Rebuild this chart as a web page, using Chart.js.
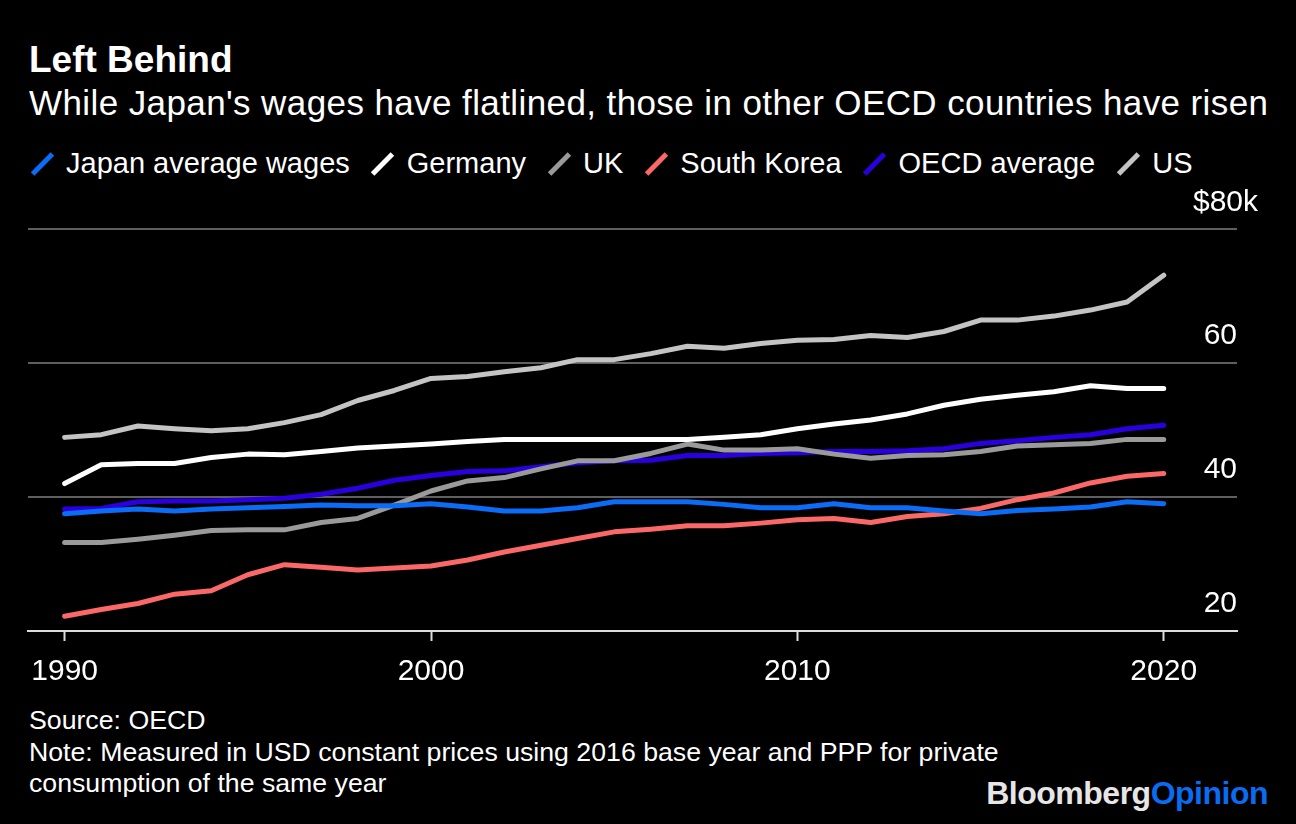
<!DOCTYPE html>
<html>
<head>
<meta charset="utf-8">
<script src="https://cdn.jsdelivr.net/npm/chart.js@4/dist/chart.umd.min.js"></script>
<style>
  body { margin: 0; background: #000; width: 1296px; height: 824px; overflow: hidden; font-family: "Liberation Sans", Arial, sans-serif; color: #fff; }
  .txt { position: absolute; left: 29px; white-space: nowrap; line-height: 1.15; }
  #title { top: 39px; font-size: 37px; font-weight: bold; }
  #subtitle { top: 83px; font-size: 35px; letter-spacing: 0.4px; }
  #legend { position: absolute; top: 147px; left: 30px; display: flex; font-size: 29px; line-height: 1.15; white-space: nowrap; }
  .item { display: flex; align-items: center; margin-right: 21px; }
  .mark { position: relative; display: inline-block; width: 24px; height: 30px; }
  .mark span { position: absolute; left: 9.5px; top: 1px; width: 5px; height: 28px; transform: rotate(45deg); }
  .item b { font-weight: normal; margin-left: 12px; }
  #footer { top: 705px; font-size: 26.7px; line-height: 31.5px; white-space: normal; }
  #logo { position: absolute; right: 28px; top: 775px; font-size: 32px; font-weight: bold; line-height: 1.15; letter-spacing: -0.5px; color: #e6e6e6; }
  #logo span { color: #0a6cf0; }
  #wrap { position: absolute; left: 0; top: 180px; width: 1296px; height: 524px; }
</style>
</head>
<body>
<div class="txt" id="title">Left Behind</div>
<div class="txt" id="subtitle">While Japan's wages have flatlined, those in other OECD countries have risen</div>
<div id="legend"></div>
<div id="wrap"><canvas id="wagesChart" width="1296" height="524"></canvas></div>
<div class="txt" id="footer">Source: OECD<br>Note: Measured in USD constant prices using 2016 base year and PPP for private<br>consumption of the same year</div>
<div id="logo">Bloomberg<span>Opinion</span></div>

<script>
// years on the x axis
const years = [1990, 1991, 1992, 1993, 1994, 1995, 1996, 1997, 1998, 1999,
  2000, 2001, 2002, 2003, 2004, 2005, 2006, 2007, 2008, 2009,
  2010, 2011, 2012, 2013, 2014, 2015, 2016, 2017, 2018, 2019, 2020];

// average annual wages, thousands of USD
const japan = [37.5, 37.9, 38.2, 37.9, 38.2, 38.4, 38.6, 38.8, 38.7, 38.7,
  39.0, 38.5, 37.9, 37.9, 38.4, 39.3, 39.3, 39.3, 38.9, 38.4,
  38.4, 39.0, 38.4, 38.4, 37.9, 37.5, 38.0, 38.2, 38.5, 39.3, 39.0];
const germany = [42.0, 44.8, 45.0, 45.0, 45.9, 46.4, 46.3, 46.8, 47.3, 47.6,
  47.9, 48.3, 48.6, 48.6, 48.6, 48.6, 48.6, 48.6, 48.9, 49.3,
  50.2, 50.9, 51.5, 52.4, 53.7, 54.6, 55.2, 55.7, 56.6, 56.2, 56.2];
const uk = [33.2, 33.2, 33.7, 34.3, 35.0, 35.1, 35.1, 36.2, 36.8, 38.8,
  40.9, 42.4, 42.9, 44.2, 45.4, 45.4, 46.5, 47.9, 47.0, 47.0,
  47.2, 46.4, 45.8, 46.2, 46.3, 46.8, 47.6, 47.8, 48.0, 48.6, 48.6];
const southKorea = [22.2, 23.2, 24.1, 25.5, 26.0, 28.4, 29.9, 29.5, 29.1, 29.4,
  29.7, 30.6, 31.8, 32.8, 33.8, 34.8, 35.2, 35.7, 35.7, 36.1,
  36.6, 36.8, 36.2, 37.1, 37.5, 38.3, 39.6, 40.6, 42.1, 43.1, 43.5];
const oecd = [38.2, 38.3, 39.3, 39.4, 39.4, 39.6, 39.8, 40.4, 41.3, 42.5,
  43.2, 43.8, 43.9, 44.5, 45.1, 45.4, 45.5, 46.2, 46.2, 46.5,
  46.6, 46.8, 46.8, 46.9, 47.2, 48.0, 48.4, 48.9, 49.3, 50.2, 50.7];
const us = [48.9, 49.3, 50.6, 50.2, 49.9, 50.2, 51.1, 52.3, 54.4, 55.9,
  57.7, 58.0, 58.7, 59.3, 60.5, 60.5, 61.4, 62.5, 62.2, 62.9,
  63.4, 63.5, 64.1, 63.8, 64.7, 66.4, 66.4, 67.0, 67.9, 69.1, 73.1];

const seriesNames = ['Japan average wages', 'Germany', 'UK', 'South Korea', 'OECD average', 'US'];
const seriesData = [japan, germany, uk, southKorea, oecd, us];
const seriesColors = ['#0b6cf5', '#ffffff', '#9a9a9a', '#fb6868', '#2a00df', '#c4c4c4'];

const xTicks = [1990, 2000, 2010, 2020];
const yTicks = [20, 40, 60, 80];

// legend built from the same arrays
const legend = document.getElementById('legend');
seriesNames.forEach((name, i) => {
  const item = document.createElement('div');
  item.className = 'item';
  item.innerHTML = `<span class="mark"><span style="background:${seriesColors[i]}"></span></span><b>${name}</b>`;
  legend.appendChild(item);
});

// "$80k" sits a bit further right than the other y labels
const topLabel = {
  id: 'topLabel',
  afterDraw(chart) {
    const y = chart.scales.y;
    const ctx = chart.ctx;
    ctx.save();
    ctx.font = '30px "Liberation Sans", Arial, sans-serif';
    ctx.fillStyle = '#fff';
    ctx.textAlign = 'right';
    ctx.textBaseline = 'middle';
    ctx.fillText('$80k', chart.chartArea.right + 21, y.getPixelForValue(80) - 26);
    ctx.restore();
  }
};

const ctx = document.getElementById('wagesChart').getContext('2d');
new Chart(ctx, {
  type: 'line',
  data: {
    labels: years,
    datasets: seriesNames.map((name, i) => ({
      label: name,
      data: seriesData[i],
      borderColor: seriesColors[i],
      backgroundColor: seriesColors[i],
      borderWidth: 5,
      borderCapStyle: 'round',
      borderJoinStyle: 'round',
      pointRadius: 0,
      tension: 0,
      fill: false
    }))
  },
  options: {
    responsive: false,
    animation: false,
    devicePixelRatio: 1,
    layout: { padding: { left: 28, right: 59, top: 49, bottom: 1 } },
    plugins: {
      legend: { display: false },
      tooltip: { enabled: false }
    },
    scales: {
      x: {
        type: 'linear',
        min: 1989,
        max: 2022,
        afterBuildTicks: (scale) => { scale.ticks = xTicks.map(v => ({ value: v })); },
        grid: { drawOnChartArea: false, drawTicks: true, tickLength: 10, tickColor: '#dcdcdc', tickWidth: 2 },
        border: { display: true, color: '#dcdcdc', width: 2 },
        ticks: {
          color: '#fff',
          font: { family: '"Liberation Sans", Arial, sans-serif', size: 30 },
          padding: 13,
          maxRotation: 0,
          callback: (v) => String(v)
        }
      },
      y: {
        position: 'right',
        min: 20,
        max: 80,
        afterBuildTicks: (scale) => { scale.ticks = yTicks.map(v => ({ value: v })); },
        grid: {
          drawTicks: false,
          lineWidth: 2,
          color: (c) => (c.tick && c.tick.value === 20 ? 'rgba(0,0,0,0)' : '#5f5f5f')
        },
        border: { display: false },
        ticks: {
          mirror: true,
          padding: 0,
          labelOffset: -27,
          color: '#fff',
          font: { family: '"Liberation Sans", Arial, sans-serif', size: 30 },
          callback: (v) => (v === 80 ? '' : String(v))
        }
      }
    }
  },
  plugins: [topLabel]
});
</script>
</body>
</html>
